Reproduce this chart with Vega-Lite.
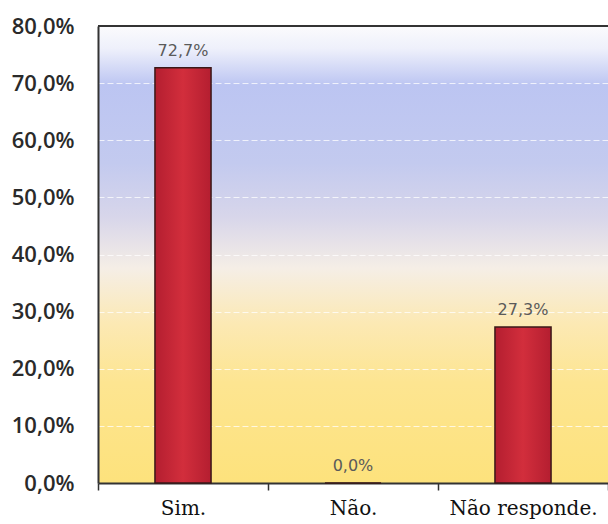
{
  "$schema": "https://vega.github.io/schema/vega-lite/v6.json",
  "autosize": {"type": "none"},
  "padding": {"left": 98, "top": 26, "right": 0, "bottom": 41},
  "width": 510,
  "height": 457,
  "background": "white",
  "config": {
    "locale": {"number": {"decimal": ",", "thousands": ".", "grouping": [3], "currency": ["", " €"]}},
    "view": {
      "stroke": null,
      "fill": {
        "gradient": "linear", "x1": 0, "y1": 0, "x2": 0, "y2": 1,
        "stops": [
          {"offset": 0, "color": "#fbfbfd"},
          {"offset": 0.05, "color": "#eef0fb"},
          {"offset": 0.13, "color": "#bcc5f2"},
          {"offset": 0.3, "color": "#c3caef"},
          {"offset": 0.42, "color": "#d8d6ea"},
          {"offset": 0.53, "color": "#f5eee6"},
          {"offset": 0.65, "color": "#fce9b4"},
          {"offset": 0.78, "color": "#fde591"},
          {"offset": 1, "color": "#fde27c"}
        ]
      }
    }
  },
  "data": {
    "values": [
      {"resposta": "Sim.", "pct": 0.727},
      {"resposta": "Não.", "pct": 0.0},
      {"resposta": "Não responde.", "pct": 0.273}
    ]
  },
  "encoding": {
    "x": {
      "field": "resposta", "type": "nominal", "sort": null,
      "scale": {"paddingInner": 0, "paddingOuter": 0},
      "axis": {
        "title": null, "labelAngle": 0, "tickBand": "extent", "grid": false,
        "domainColor": "#333333", "domainWidth": 2,
        "tickColor": "#333333", "tickWidth": 1.5, "tickSize": 7,
        "labelFont": "DejaVu Serif", "labelFontSize": 20, "labelColor": "#111111",
        "labelPadding": 8
      }
    },
    "y": {
      "field": "pct", "type": "quantitative",
      "scale": {"domain": [0, 0.8], "nice": false},
      "axis": {
        "title": null, "format": ".1%", "values": [0, 0.1, 0.2, 0.3, 0.4, 0.5, 0.6, 0.7, 0.8],
        "ticks": false, "labelPadding": 24,
        "labelFont": "Open Sans", "labelFontSize": 22, "labelFontWeight": 600, "labelColor": "#2a2a2a",
        "domainColor": "#333333", "domainWidth": 2,
        "grid": true, "gridColor": "#ffffff", "gridOpacity": 0.75, "gridDash": [6, 3], "gridWidth": 1.2
      }
    }
  },
  "layer": [
    {
      "mark": {
        "type": "bar", "width": {"band": 0.33},
        "stroke": "#3a1818", "strokeWidth": 1.5,
        "fill": {
          "gradient": "linear", "x1": 0, "y1": 0, "x2": 1, "y2": 0,
          "stops": [
            {"offset": 0, "color": "#b41e30"},
            {"offset": 0.5, "color": "#d22e3c"},
            {"offset": 1, "color": "#b41e30"}
          ]
        }
      }
    },
    {
      "mark": {"type": "text", "baseline": "bottom", "dy": -9, "font": "DejaVu Sans", "fontSize": 16, "color": "#5a5a5a"},
      "encoding": {"text": {"field": "pct", "type": "quantitative", "format": ".1%"}}
    },
    {
      "mark": {"type": "rule", "color": "#333333", "strokeWidth": 2},
      "encoding": {"y": {"datum": 0.8}, "x": null}
    }
  ]
}
